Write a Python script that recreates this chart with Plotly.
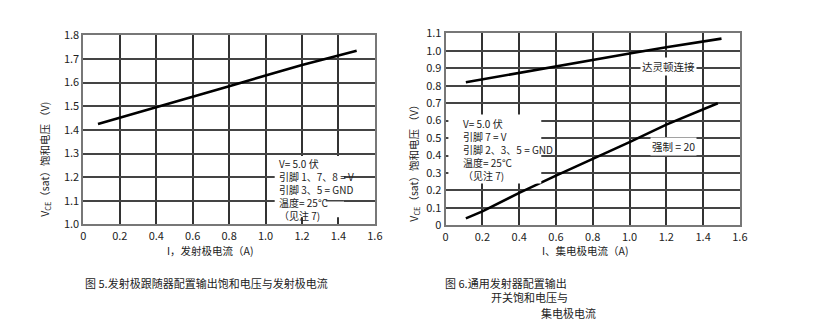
import plotly.graph_objects as go

# Fig. 5: emitter-follower output saturation voltage vs emitter current
emitter_current = [0.08, 0.4, 0.8, 1.0, 1.2, 1.5]
vce_follower = [1.425, 1.495, 1.585, 1.63, 1.675, 1.735]

# Fig. 6: common-emitter switch saturation voltage vs collector current
collector_current_darl = [0.11, 0.4, 0.6, 1.0, 1.2, 1.5]
vce_darlington = [0.82, 0.875, 0.91, 0.985, 1.02, 1.07]
collector_current_forced = [0.11, 0.2, 0.4, 0.6, 1.0, 1.2, 1.48]
vce_forced20 = [0.04, 0.08, 0.186, 0.285, 0.477, 0.577, 0.70]

x_ticks = [0, 0.2, 0.4, 0.6, 0.8, 1.0, 1.2, 1.4, 1.6]
x_tick_text = ["0", "0.2", "0.4", "0.6", "0.8", "1.0", "1.2", "1.4", "1.6"]
y1_ticks = [1.0, 1.1, 1.2, 1.3, 1.4, 1.5, 1.6, 1.7, 1.8]
y1_tick_text = ["1.0", "1.1", "1.2", "1.3", "1.4", "1.5", "1.6", "1.7", "1.8"]
y2_ticks = [0, 0.1, 0.2, 0.3, 0.4, 0.5, 0.6, 0.7, 0.8, 0.9, 1.0, 1.1]
y2_tick_text = ["0", "0.1", "0.2", "0.3", "0.4", "0.5", "0.6", "0.7", "0.8", "0.9", "1.0", "1.1"]

fig5_notes = ["V= 5.0 伏", "引脚 1、7、8 = V", "引脚 3、5 = GND", "温度= 25°C", "（见注 7)"]
fig6_notes = ["V= 5.0 伏", "引脚 7 = V", "引脚 2、3、5 = GND", "温度= 25°C", "（见注 7)"]

FONT = "Noto Sans CJK SC, Noto Sans, sans-serif"
LINE = dict(color="black", width=2.6)
W, H = 813, 330


def px_x(px):
    return px / W


def px_y(py):
    return 1 - py / H


fig = go.Figure()
fig.add_trace(go.Scatter(x=emitter_current, y=vce_follower, mode="lines",
                         line=LINE, xaxis="x", yaxis="y", showlegend=False))
fig.add_trace(go.Scatter(x=collector_current_darl, y=vce_darlington, mode="lines",
                         line=LINE, xaxis="x2", yaxis="y2", showlegend=False))
fig.add_trace(go.Scatter(x=collector_current_forced, y=vce_forced20, mode="lines",
                         line=LINE, xaxis="x2", yaxis="y2", showlegend=False))


def xaxis(domain, anchor):
    return dict(domain=domain, anchor=anchor, range=[0, 1.6], tickvals=x_ticks,
                ticktext=x_tick_text, showgrid=True, gridcolor="#333", gridwidth=2,
                zeroline=False, showline=True, linecolor="#777", linewidth=2, mirror=True,
                ticks="", tickfont=dict(size=11, color="#222"), fixedrange=True)


def yaxis(domain, anchor, rng, vals, text):
    return dict(domain=domain, anchor=anchor, range=rng, tickvals=vals, ticktext=text,
                showgrid=True, gridcolor="#444", gridwidth=1.5, zeroline=False,
                showline=True, linecolor="#777", linewidth=2, mirror=True, ticks="",
                tickfont=dict(size=11, color="#222"), fixedrange=True)


annotations = []


def note(text, x, y, xref, yref, xanchor="left", bg=None, size=10.5, angle=0):
    a = dict(text=text, x=x, y=y, xref=xref, yref=yref, xanchor=xanchor,
             yanchor="middle", showarrow=False, align="left", borderpad=1,
             textangle=angle, font=dict(family=FONT, size=size, color="#222"))
    if bg:
        a["bgcolor"] = bg
    annotations.append(a)


# White panels behind the condition notes
shapes = [
    dict(type="rect", xref="x", yref="y", x0=1.05, x1=1.43, y0=1.03, y1=1.29,
         fillcolor="white", line=dict(width=0), layer="above"),
    dict(type="line", xref="x", yref="y", x0=1.33, x1=1.43, y0=1.1, y1=1.1,
         line=dict(color="#444", width=1.5), layer="above"),
    dict(type="rect", xref="x2", yref="y2", x0=0.015, x1=0.52, y0=0.24, y1=0.635,
         fillcolor="white", line=dict(width=0), layer="above"),
]

# Test-condition notes, one block per chart
note("<br>".join(fig5_notes), 1.06, 1.148, "x", "y", size=10)
note("<br>".join(fig6_notes), 0.083, 0.437, "x2", "y2", size=10)

# Curve labels in Fig. 6
note("达灵顿连接", 1.21, 0.909, "x2", "y2", xanchor="center", bg="white")
note("强制 = 20", 1.24, 0.449, "x2", "y2", xanchor="center", bg="white")

# Axis titles
note("I，发射极电流（A)", px_x(210), px_y(253.5), "paper", "paper", xanchor="center")
note("I、集电极电流（A)", px_x(590), px_y(254), "paper", "paper", xanchor="center")
note("V<sub>CE</sub>（sat）饱和电压 （V)", px_x(43), px_y(158), "paper", "paper",
     xanchor="center", angle=-90)
note("V<sub>CE</sub>（sat）饱和电压 （V）", px_x(417), px_y(159), "paper", "paper",
     xanchor="center", angle=-90)

# Figure captions
for txt, px, py in [("图 5.发射极跟随器配置输出饱和电压与发射极电流", 81.5, 287.5),
                    ("图 6.通用发射器配置输出", 446.5, 287.5),
                    ("开关饱和电压与", 493, 303),
                    ("集电极电流", 543, 319)]:
    note(txt, px_x(px), px_y(py), "paper", "paper", size=11)

fig.update_layout(
    width=W, height=H, margin=dict(l=0, r=0, t=0, b=0),
    paper_bgcolor="white", plot_bgcolor="white",
    font=dict(family=FONT, size=11, color="#222"),
    xaxis=xaxis([px_x(81.5), px_x(377)], "y"),
    yaxis=yaxis([px_y(226.4), px_y(27.7)], "x", [1.0, 1.8], y1_ticks, y1_tick_text),
    xaxis2=xaxis([px_x(448.7), px_x(747)], "y2"),
    yaxis2=yaxis([px_y(227.4), px_y(25.6)], "x2", [0, 1.1], y2_ticks, y2_tick_text),
    annotations=annotations,
    shapes=shapes,
)

fig.write_html("out.html")
